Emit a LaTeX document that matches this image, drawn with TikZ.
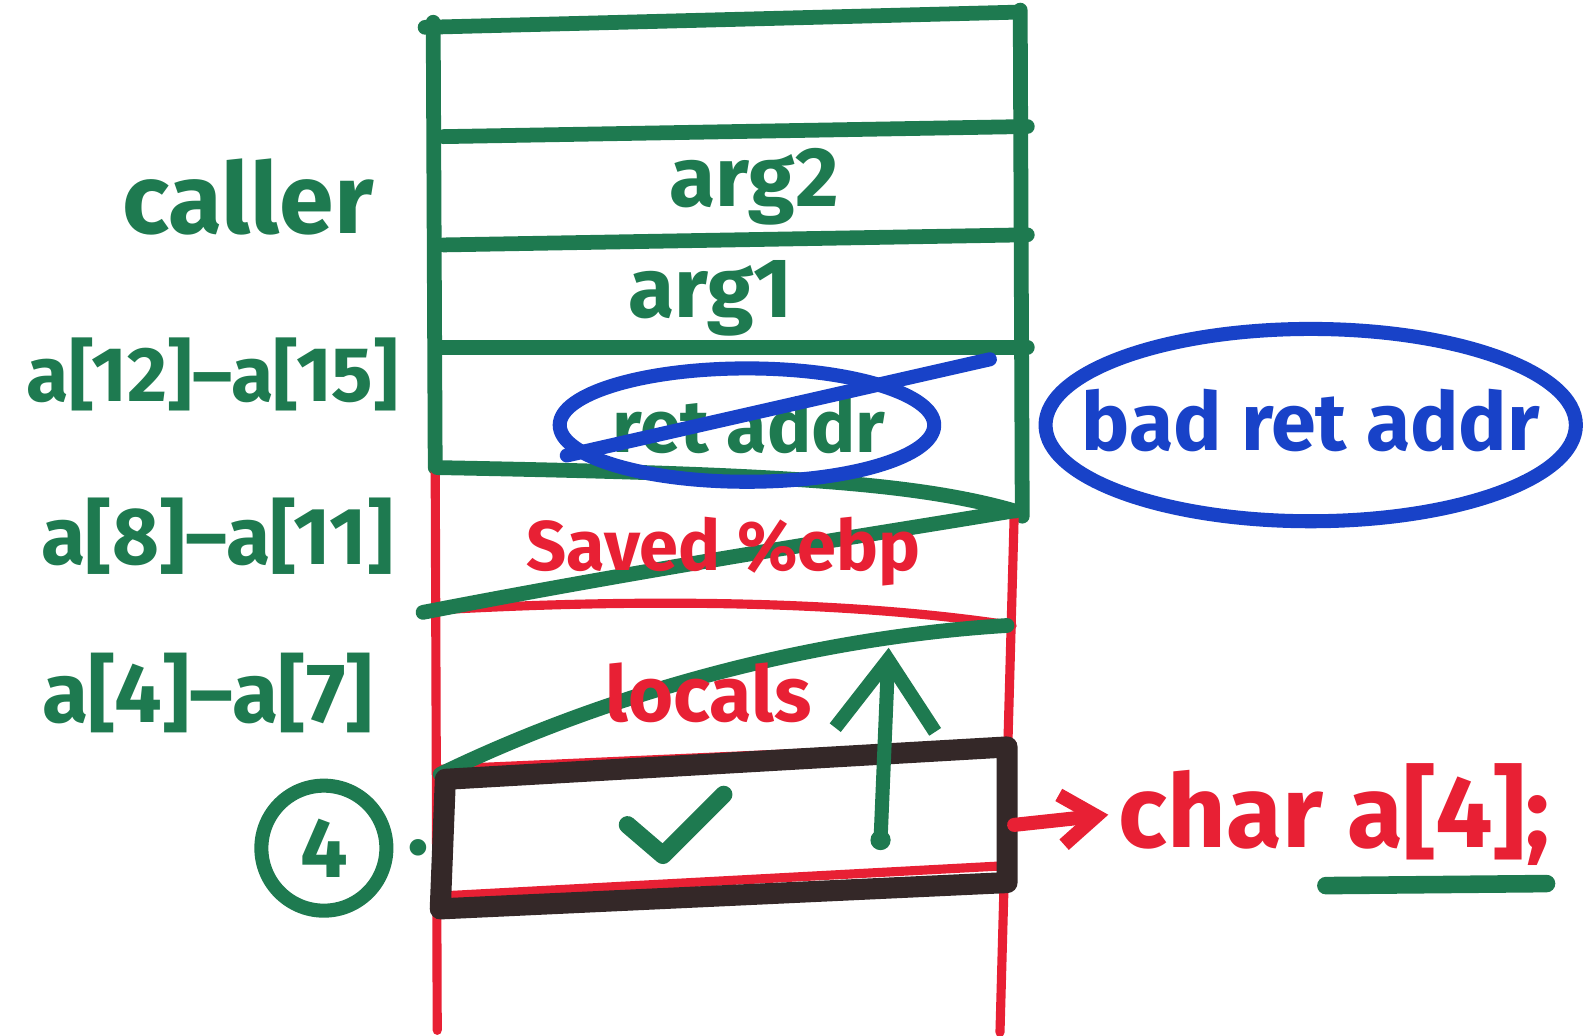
\documentclass[tikz,border=0pt]{standalone}
\usepackage{fontspec}
\setmainfont{Fira Sans}
\usetikzlibrary{arrows.meta, positioning}
\definecolor{penGreen}{RGB}{30,122,80}
\definecolor{penRed}{RGB}{232,32,52}
\definecolor{penBlue}{RGB}{24,66,200}
\definecolor{penBlack}{RGB}{52,40,40}
\tikzset{
	node distance = 1.5em,
	>={Straight Barb[length=6mm, width=9mm]},
	pen/.style={
		line width=4pt,
		line cap=round,
		line join=round
	},
	hand/.style={
		inner sep=1pt,
		font=\bfseries\fontsize{#1}{#1}\selectfont
	},
	green line/.style={
		draw=penGreen,
		line width=4.2pt
	},
	red line/.style={
		draw=penRed,
		line width=2.6pt
	},
	bubble/.style={
		draw=penBlue,
		line width=4pt
	}
}

\begin{document}
\begin{tikzpicture}[x=1.012cm, y=-1.012cm, pen]
		\useasboundingbox (0,0) rectangle (15.68,10.23);

		% caller frame
		\draw[green line] (4.28,0.22) -- (4.30,4.62);
		\draw[green line] (10.08,0.10) -- (10.10,5.10);
		\draw[green line] (4.20,0.27) -- (10.05,0.12);
		\foreach \ya/\yb in {1.35/1.25, 2.42/2.32, 3.43/3.43} {
			\draw[green line] (4.38,\ya) -- (10.15,\yb);
		}

		% callee frame
		\draw[red line] (4.30,4.65) -- (4.32,10.18);
		\draw[red line] (10.02,5.10) -- (9.88,10.20);
		\draw[red line] (4.25,6.03) .. controls (6.5,5.90) and (8.5,5.95) .. (10.00,6.18);
		\draw[red line] (4.35,7.60) -- (10.00,7.35);
		\draw[red line] (4.40,8.85) -- (10.00,8.55);

		% overwritten words
		\draw[green line] (4.32,4.62) .. controls (7.5,4.68) and (9.0,4.75) .. (10.03,5.05);
		\draw[green line] (4.18,6.05) .. controls (6.5,5.6) and (8.5,5.3) .. (10.00,5.05);
		\draw[green line] (4.35,7.65) .. controls (6.0,6.85) and (8.0,6.3) .. (9.95,6.18);

		% buffer
		\draw[penBlack, line width=6pt] (4.40,7.70) -- (9.95,7.38) -- (9.95,8.72) -- (4.35,8.98) -- cycle;
		\draw[penGreen, line width=5pt] (6.20,8.15) -- (6.55,8.45) -- (7.15,7.85);

		\coordinate (sp) at (8.70,8.30);
		\coordinate (sp top) at (8.78,6.40);
		\fill[penGreen] (sp) circle (0.1);
		\draw[penGreen, ->, >={Straight Barb[length=7mm, width=10mm]}] (sp) -- (sp top);

		% cell texts
		\node[hand=24, text=penGreen] (arg2) at (7.45,1.85) {arg2};
		\node[hand=24, text=penGreen] (arg1) at (7.02,2.95) {arg1};
		\node[hand=21, text=penGreen] (ret) at (7.40,4.20) {ret addr};
		\draw[bubble] (7.38,4.20) ellipse [x radius=1.85, y radius=0.56];
		\draw[penBlue] (5.60,4.50) -- (9.78,3.55);
		\node[hand=23, text=penBlue] (bad) at (12.95,4.15) {bad ret addr};
		\draw[bubble] (12.95,4.20) ellipse [x radius=2.62, y radius=0.95];
		\node[hand=20, text=penRed] (ebp) at (7.15,5.45) {Saved \%ebp};
		\node[hand=22, text=penRed] (locals) at (7.00,6.85) {locals};

		% declaration
		\coordinate (buf) at (10.02,8.15);
		\node[hand=29, text=penRed, anchor=west] (decl) at (10.95,8.05) {char a[4];};
		\draw[penRed, ->, >={Straight Barb[length=3.5mm, width=5mm]}] (buf) -- (decl.west);
		\draw[penGreen, line width=5pt] (13.10,8.75) -- (15.28,8.73);

		% left labels
		\node[hand=28, text=penGreen] (caller) at (2.45,1.95) {caller};
		\node[hand=22, text=penGreen] (a12) at (2.10,3.70) {a[12]–a[15]};
		\node[hand=23, text=penGreen] (a8) at (2.15,5.30) {a[8]–a[11]};
		\node[hand=24, text=penGreen] (a4) at (2.05,6.85) {a[4]–a[7]};
		\node[circle, draw=penGreen, line width=4pt, hand=24, text=penGreen, minimum size=1.25cm] (step four) at (3.20,8.38) {4};
		\node[hand=26, text=penGreen, right=1pt of step four] (four dot) {.};
	\end{tikzpicture}
\end{document}
